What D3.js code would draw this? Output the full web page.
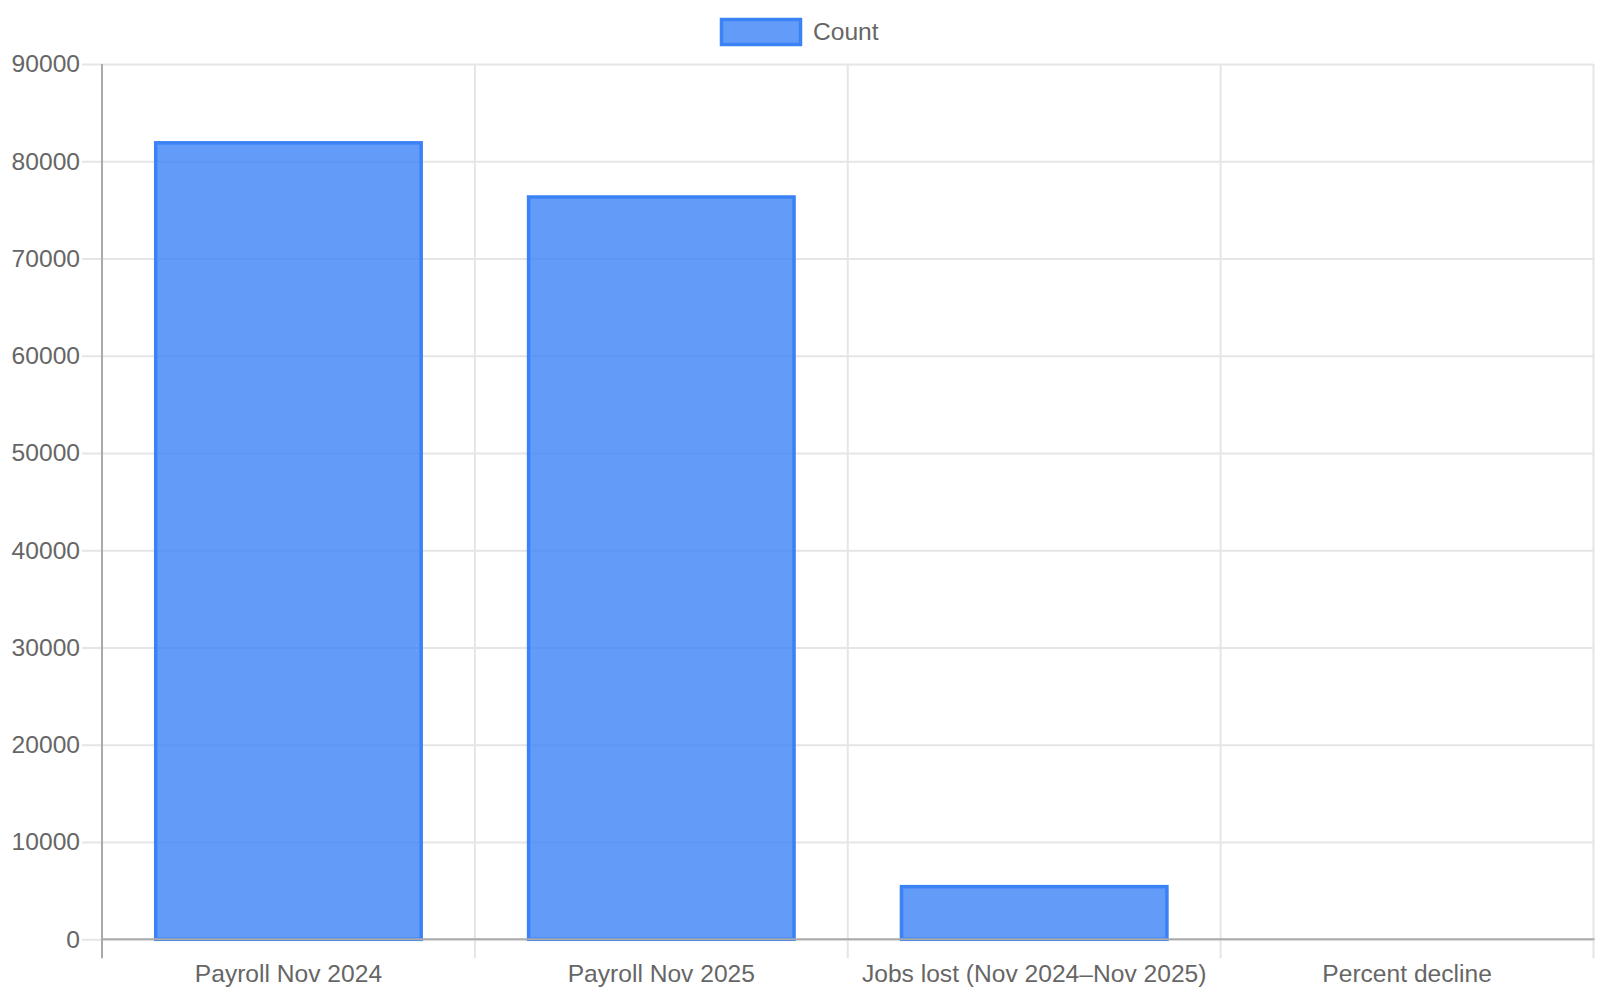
<!DOCTYPE html>
<html>
<head>
<meta charset="utf-8">
<script src="https://cdn.jsdelivr.net/npm/d3@7"></script>
<style>
  html, body { margin: 0; padding: 0; background: #fff; }
  svg { display: block; font-family: "Liberation Sans", Arial, Helvetica, sans-serif; }
</style>
</head>
<body>
<svg id="chart" width="1600" height="1000"></svg>
<script>
const categories = ["Payroll Nov 2024", "Payroll Nov 2025", "Jobs lost (Nov 2024\u2013Nov 2025)", "Percent decline"];
const counts = [82050, 76480, 5570, 6.8];
const yTicks = [0, 10000, 20000, 30000, 40000, 50000, 60000, 70000, 80000, 90000];
const seriesName = "Count";

const svg = d3.select("#chart");
const plotLeft = 102, plotRight = 1593.5, plotTop = 64, plotBottom = 939.3;
const textColor = "#666";
const gridColor = "#e5e5e5";
const axisColor = "#aaaaaa";
const fill = "rgba(59,130,246,0.8)";
const stroke = "#3b82f6";
const fontSize = 24.6;

const x = d3.scaleBand().domain(categories).range([plotLeft, plotRight]).paddingInner(0.28).paddingOuter(0.14);
const xCat = d3.scaleBand().domain(categories).range([plotLeft, plotRight]).padding(0);
const y = d3.scaleLinear().domain([0, 90000]).range([plotBottom, plotTop]);

// horizontal grid + y axis
const yAxis = d3.axisLeft(y).tickValues(yTicks).tickSize(20).tickPadding(2).tickFormat(d3.format("d"));
const gy = svg.append("g").attr("transform", `translate(${plotLeft},0)`).call(yAxis);
gy.select(".domain").remove();
gy.selectAll(".tick line").attr("stroke", gridColor).attr("stroke-width", 2)
  .attr("x1", -20).attr("x2", plotRight - plotLeft);
gy.selectAll(".tick text").attr("fill", textColor).attr("font-size", fontSize).attr("x", -22)
  .attr("font-family", "Liberation Sans, Arial, sans-serif");

// vertical grid lines (between categories)
const bounds = categories.map(c => xCat(c)).concat([plotRight]);
svg.append("g").selectAll("line").data(bounds.slice(1)).join("line")
  .attr("x1", d => d).attr("x2", d => d).attr("y1", plotTop).attr("y2", plotBottom + 19)
  .attr("stroke", gridColor).attr("stroke-width", 2);

// x axis labels
const xAxis = d3.axisBottom(xCat).tickSize(0).tickPadding(25);
const gx = svg.append("g").attr("transform", `translate(0,${plotBottom})`).call(xAxis);
gx.select(".domain").remove();
gx.selectAll(".tick text").attr("fill", textColor).attr("font-size", fontSize)
  .attr("font-family", "Liberation Sans, Arial, sans-serif");

// bars
svg.append("g").selectAll("rect").data(categories).join("rect")
  .attr("x", (d) => x(d) + 1.5)
  .attr("width", x.bandwidth() - 3)
  .attr("y", (d, i) => y(counts[i]) + 1.5)
  .attr("height", (d, i) => Math.max(0, plotBottom - y(counts[i]) - 1.5))
  .attr("fill", fill).attr("stroke", stroke).attr("stroke-width", 3.5)
  .attr("display", (d, i) => (plotBottom - y(counts[i]) < 1 ? "none" : null));

// axis lines
svg.append("line").attr("x1", plotLeft).attr("x2", plotLeft).attr("y1", plotTop).attr("y2", plotBottom + 19)
  .attr("stroke", axisColor).attr("stroke-width", 2);
svg.append("line").attr("x1", plotLeft).attr("x2", plotRight + 1).attr("y1", plotBottom).attr("y2", plotBottom)
  .attr("stroke", axisColor).attr("stroke-width", 2);

// legend
const lg = svg.append("g");
lg.append("rect").attr("x", 721.5).attr("y", 19.5).attr("width", 79).attr("height", 25)
  .attr("fill", fill).attr("stroke", stroke).attr("stroke-width", 3.5);
lg.append("text").attr("x", 813).attr("y", 31).attr("dy", "0.35em")
  .attr("fill", textColor).attr("font-size", fontSize).text(seriesName);
</script>
</body>
</html>
